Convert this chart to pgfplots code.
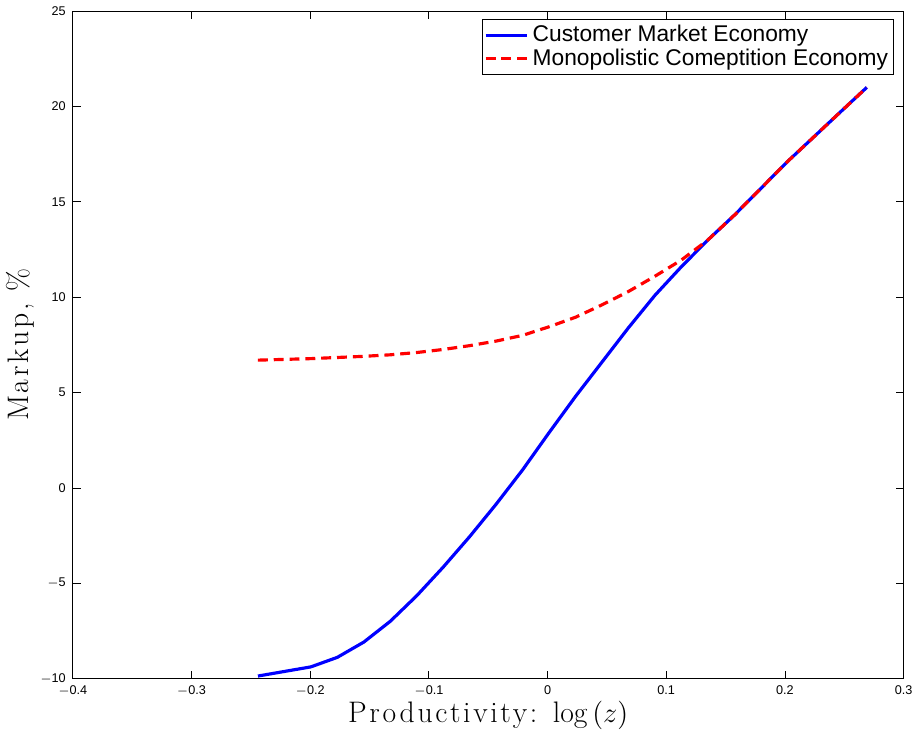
\documentclass[border=0pt]{standalone}
\usepackage{fontspec}
\newfontfamily\arial{Liberation Sans}
\newfontfamily\lmspaced{Latin Modern Roman}[LetterSpace=9]
\usepackage{pgfplots}
\pgfplotsset{compat=1.18}
\begin{document}
\begin{tikzpicture}
\begin{axis}[
  scale only axis,
  width=420pt, height=337.5pt,
  xmin=-0.4, xmax=0.3, ymin=-10, ymax=25,
  xtick={-0.4,-0.3,-0.2,-0.1,0,0.1,0.2,0.3},
  ytick={-10,-5,0,5,10,15,20,25},
  xticklabels={$-$0.4,$-$0.3,$-$0.2,$-$0.1,0,0.1,0.2,0.3},
  yticklabels={$-$10,$-$5,0,5,10,15,20,25},
  ticklabel style={font=\arial\fontsize{6.4}{7}\selectfont},
  tick style={black, line width=0.4pt},
  major tick length=4pt,
  axis line style={line width=0.5pt},
  xlabel={\fontsize{15}{16}\selectfont\lmspaced Productivity: $\log\,(z)$},
  ylabel={\fontsize{15}{16}\selectfont\lmspaced Markup, \%},
  xlabel style={yshift=4.5pt},
  ylabel style={yshift=-4pt},
  legend style={at={(rel axis cs:0.989,0.988)}, anchor=north east,
    font=\arial\fontsize{11.5}{13}\selectfont, draw=black, line width=0.5pt,
    inner sep=1pt, row sep=-2pt, cells={anchor=west}},
  legend image code/.code={\draw[#1] (0pt,0pt) -- (21pt,0pt);},
]
\addplot[blue, line width=1.6pt] coordinates {
(-0.244,-9.86) (-0.2217,-9.62) (-0.1994,-9.38) (-0.1771,-8.88) (-0.1548,-8.08)
(-0.1325,-6.99) (-0.1102,-5.65) (-0.0879,-4.15) (-0.0656,-2.55) (-0.0433,-0.85)
(-0.021,0.95) (0.0013,2.9) (0.0236,4.8) (0.0459,6.6) (0.0682,8.4)
(0.0905,10.1) (0.1128,11.6) (0.1351,13.0) (0.1574,14.3) (0.1797,15.7)
(0.202,17.1) (0.2243,18.4) (0.2466,19.7) (0.269,21.0)
};
\addlegendentry{Customer Market Economy}
\addplot[red, line width=1.6pt, dash pattern=on 5pt off 3pt] coordinates {
(-0.244,6.7) (-0.2217,6.74) (-0.1994,6.78) (-0.1771,6.84) (-0.1548,6.9)
(-0.1325,6.98) (-0.1102,7.1) (-0.0879,7.26) (-0.0656,7.46) (-0.0433,7.7)
(-0.021,8.0) (0.0013,8.45) (0.0236,8.95) (0.0459,9.6) (0.0682,10.3)
(0.0905,11.1) (0.1128,11.95) (0.1351,13.0) (0.1574,14.3) (0.1797,15.7)
(0.202,17.1) (0.2243,18.4) (0.2466,19.7) (0.269,21.0)
};
\addlegendentry{Monopolistic Comeptition Economy}
\end{axis}
\end{tikzpicture}
\end{document}
